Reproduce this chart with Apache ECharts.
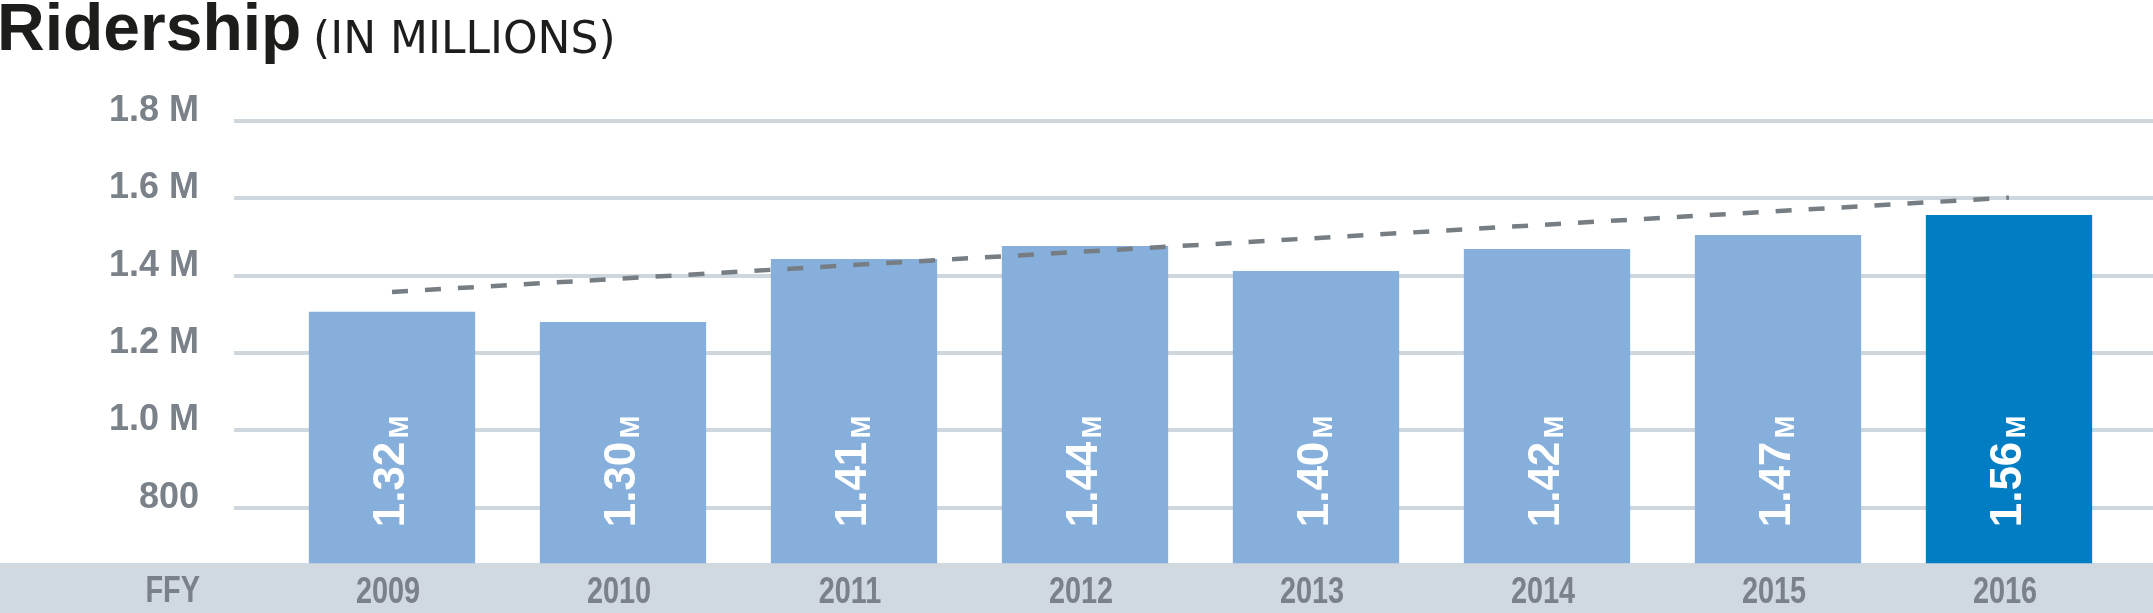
<!DOCTYPE html>
<html>
<head>
<meta charset="utf-8">
<script src="https://cdn.jsdelivr.net/npm/echarts@6/dist/echarts.min.js"></script>
<style>
  html, body { margin: 0; padding: 0; background: #ffffff; }
  #chart { width: 2153px; height: 613px; }
</style>
</head>
<body>
<div id="chart"></div>
<script>
// ---- data ----
const categories = ['2009', '2010', '2011', '2012', '2013', '2014', '2015', '2016'];
const ridership = [1.306, 1.279, 1.442, 1.476, 1.411, 1.468, 1.504, 1.556];
const barLabels = ['1.32', '1.30', '1.41', '1.44', '1.40', '1.42', '1.47', '1.56'];
const trend = [1.357, null, null, null, null, null, null, 1.601];
const yTicks = [0.8, 1.0, 1.2, 1.4, 1.6, 1.8];
const yTickLabels = ['800', '1.0 M', '1.2 M', '1.4 M', '1.6 M', '1.8 M'];
const highlightIndex = 7;

// ---- styles ----
const GREY_TEXT = '#7a8188';
const LIGHT_BAR = '#87afdb';
const DARK_BAR = '#007dc3';
const GRID_LINE = '#cfd7de';
const BAND = '#d0d8e0';
const Y_MIN = 0.655, Y_MAX = 1.8;
const CONDENSE = 0.78;

const chart = echarts.init(document.getElementById('chart'), null, { renderer: 'canvas' });

const option = {
  backgroundColor: '#ffffff',
  animation: false,
  title: [
    {
      text: 'Ridership', left: -3, top: -1, padding: 0,
      textStyle: { fontFamily: 'Liberation Sans', fontWeight: 'bold', fontSize: 66, color: '#1d1d1b' }
    },
    {
      text: '(IN MILLIONS)', left: 313, top: 20, padding: 0,
      textStyle: { fontFamily: 'DejaVu Sans', fontWeight: 'normal', fontSize: 44, color: '#1d1d1b' }
    }
  ],
  graphic: [
    {
      type: 'rect', z: -10, silent: true,
      shape: { x: 0, y: 563, width: 2153, height: 50 },
      style: { fill: BAND }
    },
    {
      type: 'text', z: 10, silent: true,
      x: 200, y: 592, scaleX: CONDENSE,
      style: {
        text: 'FFY', align: 'right', verticalAlign: 'middle',
        fontFamily: 'Liberation Sans', fontWeight: 'bold', fontSize: 37, fill: GREY_TEXT
      }
    }
  ],
  grid: [
    { left: 276.5, right: 28.5, top: 120.7, bottom: 49.7 },
    { left: 234, right: 0, top: 120.7, bottom: 49.7 }
  ],
  xAxis: [
    {
      type: 'category', gridIndex: 0, data: categories,
      axisLine: { show: false }, axisTick: { show: false },
      axisLabel: { show: false }
    },
    { type: 'value', gridIndex: 1, min: 0, max: 1, show: false }
  ],
  yAxis: [
    { type: 'value', gridIndex: 0, min: Y_MIN, max: Y_MAX, show: false },
    {
      type: 'value', gridIndex: 1, min: Y_MIN, max: Y_MAX,
      axisLine: { show: false },
      axisTick: { show: false, customValues: yTicks },
      axisLabel: {
        customValues: yTicks,
        margin: 35,
        verticalAlign: 'bottom',
        lineHeight: 19,
        fontFamily: 'Liberation Sans', fontWeight: 'bold', fontSize: 36, color: GREY_TEXT,
        formatter: function (v) {
          const i = yTicks.findIndex(t => Math.abs(t - v) < 1e-6);
          return i >= 0 ? yTickLabels[i] : '';
        }
      },
      splitLine: { show: true, lineStyle: { color: GRID_LINE, width: 4 } }
    }
  ],
  series: [
    {
      type: 'bar', xAxisIndex: 0, yAxisIndex: 0, z: 2,
      barWidth: '72%',
      data: ridership.map((v, i) => ({
        value: v,
        itemStyle: { color: i === highlightIndex ? DARK_BAR : LIGHT_BAR }
      })),
      label: {
        show: true, position: 'insideBottom', distance: 36,
        rotate: 90, align: 'left', verticalAlign: 'middle',
        formatter: p => '{a|' + barLabels[p.dataIndex] + '} {b|M}',
        rich: {
          a: { fontFamily: 'Liberation Sans', fontWeight: 'bold', fontSize: 44, color: '#ffffff', verticalAlign: 'bottom', lineHeight: 44 },
          b: { fontFamily: 'Liberation Sans', fontWeight: 'bold', fontSize: 27, color: '#ffffff', verticalAlign: 'bottom', lineHeight: 38 }
        }
      }
    },
    {
      type: 'line', xAxisIndex: 0, yAxisIndex: 0, z: 5,
      data: trend, connectNulls: true, symbol: 'none', silent: true,
      lineStyle: { color: '#767d83', width: 4.5, type: [16, 17] }
    },
    {
      // category (year) labels in the bottom band, placed through the category axis
      type: 'custom', xAxisIndex: 0, yAxisIndex: 0, z: 10, clip: false, silent: true,
      data: categories.map((c, i) => [i, Y_MIN]),
      renderItem: function (params, api) {
        const pt = api.coord([api.value(0), api.value(1)]);
        return {
          type: 'text',
          x: pt[0] - 4, y: pt[1] + 29, scaleX: CONDENSE,
          style: {
            text: categories[params.dataIndex], align: 'center', verticalAlign: 'middle',
            fontFamily: 'Liberation Sans', fontWeight: 'bold', fontSize: 37, fill: GREY_TEXT
          }
        };
      }
    }
  ]
};

chart.setOption(option);
</script>
</body>
</html>
